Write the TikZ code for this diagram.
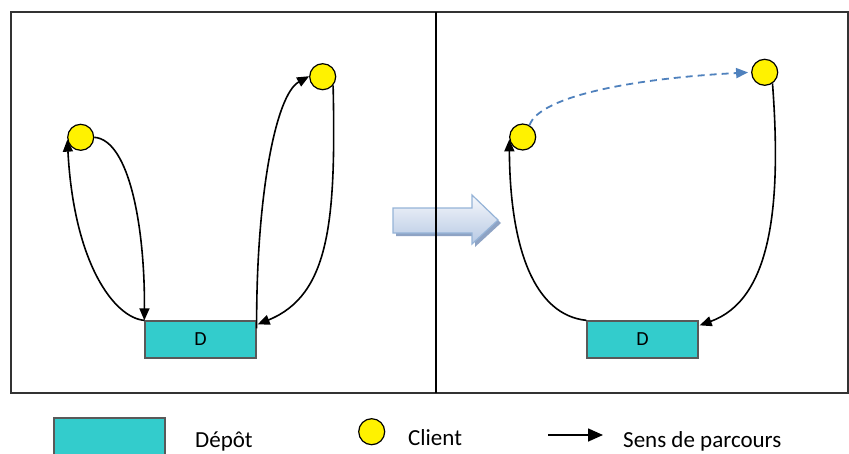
\documentclass[tikz,border=0pt]{standalone}
\usepackage{fontspec}
\setmainfont{Carlito}
\usetikzlibrary{arrows.meta}
\definecolor{depotcol}{HTML}{33CCCC}
\definecolor{swapblue}{HTML}{4F81BD}
\definecolor{bigedge}{HTML}{95B3D7}
\definecolor{bigtop}{HTML}{F6F8FC}
\definecolor{bigbot}{HTML}{B6C8E3}
\definecolor{bigshade}{HTML}{8EA3C4}
\begin{document}
\begin{tikzpicture}[x=1pt,y=-1pt,
    depot/.style={draw=black!65,line width=1.3pt,fill=depotcol,minimum width=111pt,minimum height=37pt,inner sep=0pt,font=\fontsize{20}{22}\selectfont},
    client/.style={circle,draw=black,line width=1.2pt,fill=yellow,minimum size=26pt,inner sep=0pt},
    route/.style={line width=1.6pt,-{Triangle[length=12pt,width=10pt]}},
    legtxt/.style={anchor=base west,inner sep=0pt,font=\fontsize{23}{27}\selectfont}]
      \useasboundingbox (0,0) rectangle (849,453);
      % before
      \draw[line width=2pt,black!80] (11,12) rectangle (436,393);
      \node[depot] (d1) at (200.5,339.5) {D};
      \node[client] (c1) at (80.7,137.3) {};
      \node[client] (c2) at (322.7,76.7) {};
      \draw[route] (d1.north west) .. controls (115,318) and (74,265) .. (c1.190);
      \draw[route] (c1.east) .. controls (130,140) and (145,230) .. (d1.north west);
      \draw[route] ([yshift=-8pt]d1.north east) .. controls (256,200) and (275,95) .. (c2.178);
      \draw[route] (c2.-40) .. controls (336,220) and (330,295) .. ([xshift=1pt,yshift=-4pt]d1.north east);
      % after
      \draw[line width=2pt,black!80] (436,12) rectangle (848,393);
      \node[depot] (d2) at (642.5,339.5) {D};
      \node[client] (ca) at (522.7,137) {};
      \node[client] (cb) at (764.7,72.3) {};
      \draw[route] (d2.north west) .. controls (535,315) and (510,250) .. (ca.190);
      \draw[route] (cb.-55) .. controls (782,210) and (770,300) .. ([xshift=1pt,yshift=-5pt]d2.north east);
      \draw[line width=1.8pt,swapblue,dash pattern=on 7pt off 5pt,-{Triangle[length=12pt,width=10pt]},shorten >=3pt]
        (ca.60) .. controls (540,95) and (640,78) .. (cb.180);
      % big arrow
      \fill[bigshade] (396,211) -- (475,211) -- (475,198) -- (501,223) -- (475,247) -- (475,236) -- (396,236) -- cycle;
      \shade[top color=bigtop,bottom color=bigbot,draw=bigedge,line width=1.2pt]
        (393,208) -- (472,208) -- (472,195) -- (498,220) -- (472,244) -- (472,233) -- (393,233) -- cycle;
      \draw[line width=2.4pt,black] (436,12) -- (436,393);
      % legend
      \node[draw=black!65,line width=1.3pt,fill=depotcol,minimum width=111pt,minimum height=42pt,inner sep=0pt] (ldepot) at (109.5,439) {};
      \node[legtxt] (tdepot) at (195,447) {Dépôt};
      \node[client] (lclient) at (371.7,431.7) {};
      \node[legtxt] (tclient) at (408,445) {Client};
      \coordinate (la) at (548,435);
      \coordinate (lb) at (603,435);
      \draw[line width=1.6pt,-{Triangle[length=15pt,width=13pt]}] (la) -- (lb);
      \node[legtxt] (tsens) at (623,447) {Sens de parcours};
\end{tikzpicture}
\end{document}
